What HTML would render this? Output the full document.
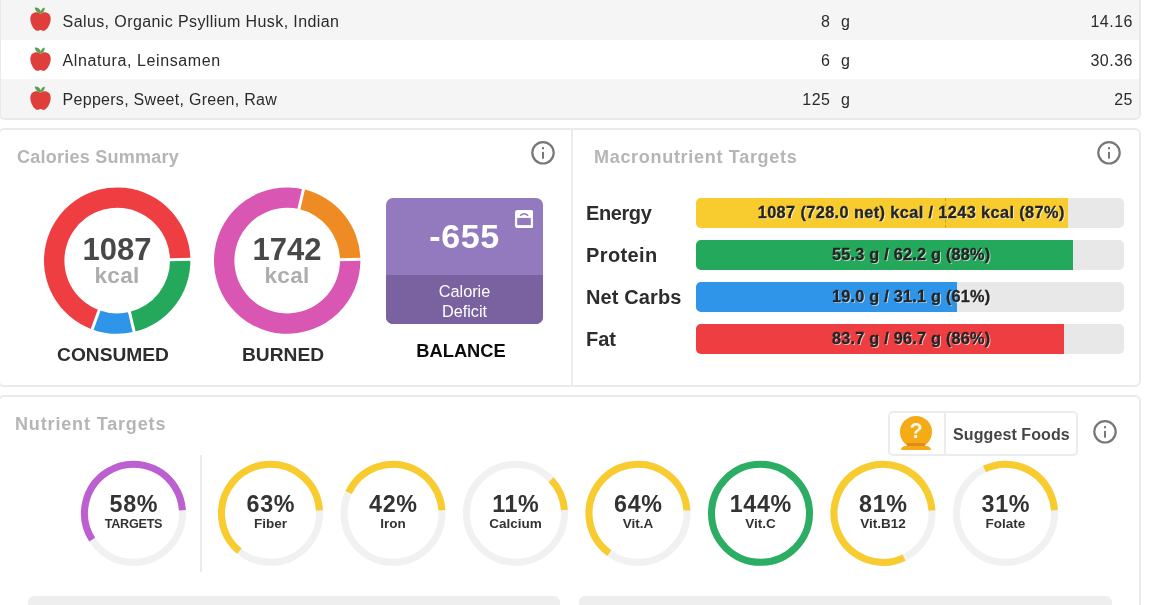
<!DOCTYPE html>
<html><head><meta charset="utf-8"><title>Diary</title>
<style>
*{box-sizing:border-box;margin:0;padding:0}
html,body{width:1157px;height:605px;overflow:hidden;background:#fff;font-family:"Liberation Sans",sans-serif;color:#333}
.abs{position:absolute}
#tbl{position:absolute;left:-1px;top:-4px;width:1142px;height:124px;border:2px solid #e9e9e9;border-top:none;border-radius:0 0 6px 6px;overflow:hidden}
.row{position:absolute;left:0;width:1140px;height:39px;}
.row.g{background:#f5f5f5}
.row span{position:absolute;top:0.5px;line-height:39px;font-size:16px;color:#2b2b2b;white-space:nowrap}
.row.r1 span{top:1.5px}
.row .nm{left:61.6px}
.row .amt{right:310.5px;letter-spacing:0.5px}
.row .un{left:840px}
.row .val{right:8px;letter-spacing:0.5px}
.apple{position:absolute;left:28.8px;top:7px;width:21px;height:24.2px}
.panel{position:absolute;border:2px solid #ebebeb;border-radius:6px;background:#fff}
.ttl{position:absolute;font-weight:bold;font-size:18px;color:#b5b5b5;white-space:nowrap}
.dl{position:absolute;font-weight:bold;font-size:19.2px;color:#2e2e2e;text-align:center;white-space:nowrap}
.dn{position:absolute;width:148px;text-align:center;font-weight:bold;white-space:nowrap}
.dn .n{font-size:31px;color:#484848;line-height:30px}
.dn .k{font-size:22.5px;color:#adadad;line-height:22px;letter-spacing:0.3px}
.ml{position:absolute;left:586px;font-weight:bold;font-size:20px;color:#2d2d2d;line-height:30px;white-space:nowrap}
.bar{position:absolute;left:696px;width:428px;height:30px;border-radius:5px;background:#e8e8e8;overflow:hidden}
.bar i{position:absolute;left:0;top:0;bottom:0;display:block}
.bar b{position:absolute;left:0;right:0;top:0;line-height:29px;text-align:center;font-size:16.3px;letter-spacing:0.22px;color:#242424;-webkit-text-stroke:0.3px #242424;text-shadow:1px 1px 0 rgba(255,255,255,0.7);padding-left:2.4px;white-space:nowrap}
.rt{position:absolute;top:490px;width:120px;text-align:center;font-weight:bold;color:#333;white-space:nowrap}
.rt .pct{font-size:23.3px;line-height:28px;letter-spacing:0.6px;padding-left:0.6px}
.rt .nm{font-size:13.5px;line-height:14px;margin-top:-0.6px}
</style></head><body>
<div id="tbl">
 <div class="row g r1" style="top:4px;height:40px"><svg class="apple" viewBox="0 0 21 25" preserveAspectRatio="none"><use href="#ap"/></svg><span class="nm" style="letter-spacing:0.4px">Salus, Organic Psyllium Husk, Indian</span><span class="amt">8</span><span class="un">g</span><span class="val">14.16</span></div>
 <div class="row" style="top:44px"><svg class="apple" viewBox="0 0 21 25" preserveAspectRatio="none"><use href="#ap"/></svg><span class="nm" style="letter-spacing:0.6px">Alnatura, Leinsamen</span><span class="amt">6</span><span class="un">g</span><span class="val">30.36</span></div>
 <div class="row g" style="top:83px;height:41px"><svg class="apple" viewBox="0 0 21 25" preserveAspectRatio="none"><use href="#ap"/></svg><span class="nm" style="letter-spacing:0.28px">Peppers, Sweet, Green, Raw</span><span class="amt">125</span><span class="un">g</span><span class="val">25</span></div>
</div>
<svg width="0" height="0" style="position:absolute"><defs><g id="ap">
<path d="M10.5 6.9 C8.5 5 4.5 4.6 2.2 7 C-0.2 9.6 -0.2 14 1.5 18 C3 21.8 5.5 24.6 7.6 24.6 C9 24.6 9.6 23.8 10.5 23.8 C11.4 23.8 12 24.6 13.4 24.6 C15.5 24.6 18 21.8 19.5 18 C21.2 14 21.2 9.6 18.8 7 C16.5 4.6 12.5 5 10.5 6.9Z" fill="#de3f3b"/>
<path d="M10.2 6.6 C7.6 6 5.2 3.8 4.6 0.7 C7.6 0.2 10 2 10.7 4.6 C11.4 2.4 12.8 0.9 14.6 0.5 C15.2 2.8 13.6 5.6 11 6.6Z" fill="#5c9f50"/>
</g></defs></svg>

<div class="panel" style="left:-2px;top:128px;width:1143px;height:259px"></div>
<div class="panel" style="left:-2px;top:395px;width:1143px;height:260px"></div>
<div class="abs" style="left:571px;top:129px;width:2px;height:257px;background:#ececec"></div>
<div class="ttl" style="left:17px;top:146.5px;letter-spacing:0.24px">Calories Summary</div>
<div class="ttl" style="left:594px;top:146.5px;letter-spacing:0.7px">Macronutrient Targets</div>

<svg class="abs" style="left:0;top:0" width="1157" height="605" viewBox="0 0 1157 605">
<path d="M92.16 329.39 A73.2 73.2 0 1 1 190.39 259.32 L169.99 259.68 A52.8 52.8 0 1 0 99.14 310.22 Z" fill="#ee3e42"/>
<path d="M190.39 259.32 A73.2 73.2 0 0 1 134.16 331.81 L129.44 311.96 A52.8 52.8 0 0 0 169.99 259.68 Z" fill="#23a85c"/>
<path d="M134.16 331.81 A73.2 73.2 0 0 1 92.16 329.39 L99.14 310.22 A52.8 52.8 0 0 0 129.44 311.96 Z" fill="#2e95e8"/>
<line x1="168.99" y1="259.70" x2="191.39" y2="259.31" stroke="#fff" stroke-width="3"/>
<line x1="129.20" y1="310.99" x2="134.40" y2="332.78" stroke="#fff" stroke-width="3"/>
<line x1="99.48" y1="309.28" x2="91.82" y2="330.33" stroke="#fff" stroke-width="3"/>
<path d="M360.39 259.32 A73.2 73.2 0 1 1 303.42 189.22 L298.90 209.11 A52.8 52.8 0 1 0 339.99 259.68 Z" fill="#d957b2"/>
<path d="M303.42 189.22 A73.2 73.2 0 0 1 360.39 259.32 L339.99 259.68 A52.8 52.8 0 0 0 298.90 209.11 Z" fill="#ef8b24"/>
<line x1="338.99" y1="259.70" x2="361.39" y2="259.31" stroke="#fff" stroke-width="3"/>
<line x1="298.68" y1="210.09" x2="303.64" y2="188.24" stroke="#fff" stroke-width="3"/>
<circle cx="543" cy="152.8" r="10.7" fill="none" stroke="#777" stroke-width="2.2"/><rect x="542" y="147.10000000000002" width="2" height="2.2" fill="#777"/><rect x="542" y="151.9" width="2" height="6.8" fill="#777"/>
<circle cx="1109" cy="152.8" r="10.7" fill="none" stroke="#777" stroke-width="2.2"/><rect x="1108" y="147.10000000000002" width="2" height="2.2" fill="#777"/><rect x="1108" y="151.9" width="2" height="6.8" fill="#777"/>
<circle cx="1105" cy="431.8" r="10.7" fill="none" stroke="#777" stroke-width="2.2"/><rect x="1104" y="426.1" width="2" height="2.2" fill="#777"/><rect x="1104" y="430.90000000000003" width="2" height="6.8" fill="#777"/>
<circle cx="133.5" cy="513.3" r="49" fill="none" stroke="#f1f1f1" stroke-width="7"/>
<circle cx="133.5" cy="513.3" r="49" fill="none" stroke="#bc5fd0" stroke-width="7" stroke-dasharray="178.57 307.88" transform="rotate(-212.60 133.5 513.3)" />
<circle cx="270.5" cy="513.3" r="49" fill="none" stroke="#f1f1f1" stroke-width="7"/>
<circle cx="270.5" cy="513.3" r="49" fill="none" stroke="#f8cb2e" stroke-width="7" stroke-dasharray="193.96 307.88" transform="rotate(-230.60 270.5 513.3)" />
<circle cx="393" cy="513.3" r="49" fill="none" stroke="#f1f1f1" stroke-width="7"/>
<circle cx="393" cy="513.3" r="49" fill="none" stroke="#f8cb2e" stroke-width="7" stroke-dasharray="129.31 307.88" transform="rotate(-155.00 393 513.3)" />
<circle cx="515.5" cy="513.3" r="49" fill="none" stroke="#f1f1f1" stroke-width="7"/>
<circle cx="515.5" cy="513.3" r="49" fill="none" stroke="#f8cb2e" stroke-width="7" stroke-dasharray="33.87 307.88" transform="rotate(-43.40 515.5 513.3)" />
<circle cx="638" cy="513.3" r="49" fill="none" stroke="#f1f1f1" stroke-width="7"/>
<circle cx="638" cy="513.3" r="49" fill="none" stroke="#f8cb2e" stroke-width="7" stroke-dasharray="197.04 307.88" transform="rotate(-234.20 638 513.3)" />
<circle cx="760.5" cy="513.3" r="49" fill="none" stroke="#f1f1f1" stroke-width="7"/>
<circle cx="760.5" cy="513.3" r="49" fill="none" stroke="#2bad64" stroke-width="7"/>
<circle cx="883" cy="513.3" r="49" fill="none" stroke="#f1f1f1" stroke-width="7"/>
<circle cx="883" cy="513.3" r="49" fill="none" stroke="#f8cb2e" stroke-width="7" stroke-dasharray="249.38 307.88" transform="rotate(-295.40 883 513.3)" />
<circle cx="1005.5" cy="513.3" r="49" fill="none" stroke="#f1f1f1" stroke-width="7"/>
<circle cx="1005.5" cy="513.3" r="49" fill="none" stroke="#f8cb2e" stroke-width="7" stroke-dasharray="95.44 307.88" transform="rotate(-115.40 1005.5 513.3)" />
</svg>

<div class="dn" style="left:43px;top:235px"><div class="n">1087</div><div class="k">kcal</div></div>
<div class="dn" style="left:213px;top:235px"><div class="n">1742</div><div class="k">kcal</div></div>
<div class="dl" style="left:43px;top:344px;width:140px">CONSUMED</div>
<div class="dl" style="left:213px;top:344px;width:140px">BURNED</div>
<div class="dl" style="left:386px;top:339.5px;width:150px;color:#0c0c0c;font-size:18.3px">BALANCE</div>

<div class="abs" style="left:386px;top:198px;width:157px;height:126px;border-radius:7px;background:#9379bd;overflow:hidden">
 <div class="abs" style="left:0;right:0;top:77px;bottom:0;background:#7a619f"></div>
 <div class="abs" style="left:0;width:157px;top:17.5px;text-align:center;font-weight:bold;font-size:34px;letter-spacing:0.6px;line-height:40px;color:#fff">-655</div>
 <div class="abs" style="left:0;width:157px;top:83px;text-align:center;font-size:16.3px;line-height:20px;color:#fff">Calorie<br>Deficit</div>
 <svg class="abs" style="left:128.8px;top:11.8px" width="18.4" height="18.2" viewBox="0 0 18.4 18.2"><rect x="0" y="0" width="18.4" height="18.2" rx="2.6" fill="#fff"/><rect x="2.2" y="7.9" width="13.6" height="7.2" fill="#9379bd"/><path d="M5.2 5.8 Q9.2 1.6 13.2 5.8" fill="none" stroke="#9379bd" stroke-width="1.6"/></svg>
</div>

<div class="ml" style="top:198px;letter-spacing:-0.4px">Energy</div>
<div class="ml" style="top:240px;letter-spacing:0.4px">Protein</div>
<div class="ml" style="top:282px;letter-spacing:0.12px">Net Carbs</div>
<div class="ml" style="top:324px">Fat</div>
<div class="bar" style="top:198px"><i style="width:372px;background:#f8cb2e"></i><i style="left:249px;width:0;border-left:1px dashed #e39a10"></i><b style="letter-spacing:0.4px">1087 (728.0 net) kcal / 1243 kcal (87%)</b></div>
<div class="bar" style="top:240px"><i style="width:377px;background:#23a85c"></i><b>55.3 g / 62.2 g (88%)</b></div>
<div class="bar" style="top:282px"><i style="width:261px;background:#2e95e8"></i><b>19.0 g / 31.1 g (61%)</b></div>
<div class="bar" style="top:324px"><i style="width:368px;background:#ee3e42"></i><b>83.7 g / 96.7 g (86%)</b></div>

<div class="ttl" style="left:15px;top:413.5px;letter-spacing:0.85px">Nutrient Targets</div>
<div class="abs" style="left:200px;top:455px;width:2px;height:117px;background:#ececec"></div>
<div class="rt" style="left:73.5px"><div class="pct">58%</div><div class="nm" style="font-size:12.6px;letter-spacing:-0.25px">TARGETS</div></div>
<div class="rt" style="left:210.5px"><div class="pct">63%</div><div class="nm">Fiber</div></div>
<div class="rt" style="left:333px"><div class="pct">42%</div><div class="nm">Iron</div></div>
<div class="rt" style="left:455.5px"><div class="pct">11%</div><div class="nm">Calcium</div></div>
<div class="rt" style="left:578px"><div class="pct">64%</div><div class="nm">Vit.A</div></div>
<div class="rt" style="left:700.5px"><div class="pct">144%</div><div class="nm">Vit.C</div></div>
<div class="rt" style="left:823px"><div class="pct">81%</div><div class="nm">Vit.B12</div></div>
<div class="rt" style="left:945.5px"><div class="pct">31%</div><div class="nm">Folate</div></div>

<div class="abs" style="left:888px;top:411px;width:190px;height:45px;border:2px solid #ececec;border-radius:5px;background:#fff"></div>
<div class="abs" style="left:944px;top:413px;width:2px;height:41px;background:#ececec"></div>
<svg class="abs" style="left:896px;top:412px" width="40" height="42" viewBox="896 412 40 42"><circle cx="916" cy="431.9" r="16" fill="#f5ab15"/><rect x="906.9" y="443" width="18.2" height="3.4" fill="#e0891d"/><path d="M901 449.9 Q901.3 446 906 446 L926 446 Q930.7 446 931 449.9 Z" fill="#f5ab15"/><text x="916" y="438.1" text-anchor="middle" font-family="Liberation Sans, sans-serif" font-weight="bold" font-size="21.5" fill="#fff8e8">?</text></svg>
<div class="abs" style="left:953px;top:414px;line-height:42px;font-weight:bold;font-size:16px;letter-spacing:0.1px;color:#454545;white-space:nowrap">Suggest Foods</div>

<div class="abs" style="left:28px;top:596px;width:532px;height:20px;border-radius:6px;background:#eeeeee"></div>
<div class="abs" style="left:579px;top:596px;width:533px;height:20px;border-radius:6px;background:#eeeeee"></div>
</body></html>
